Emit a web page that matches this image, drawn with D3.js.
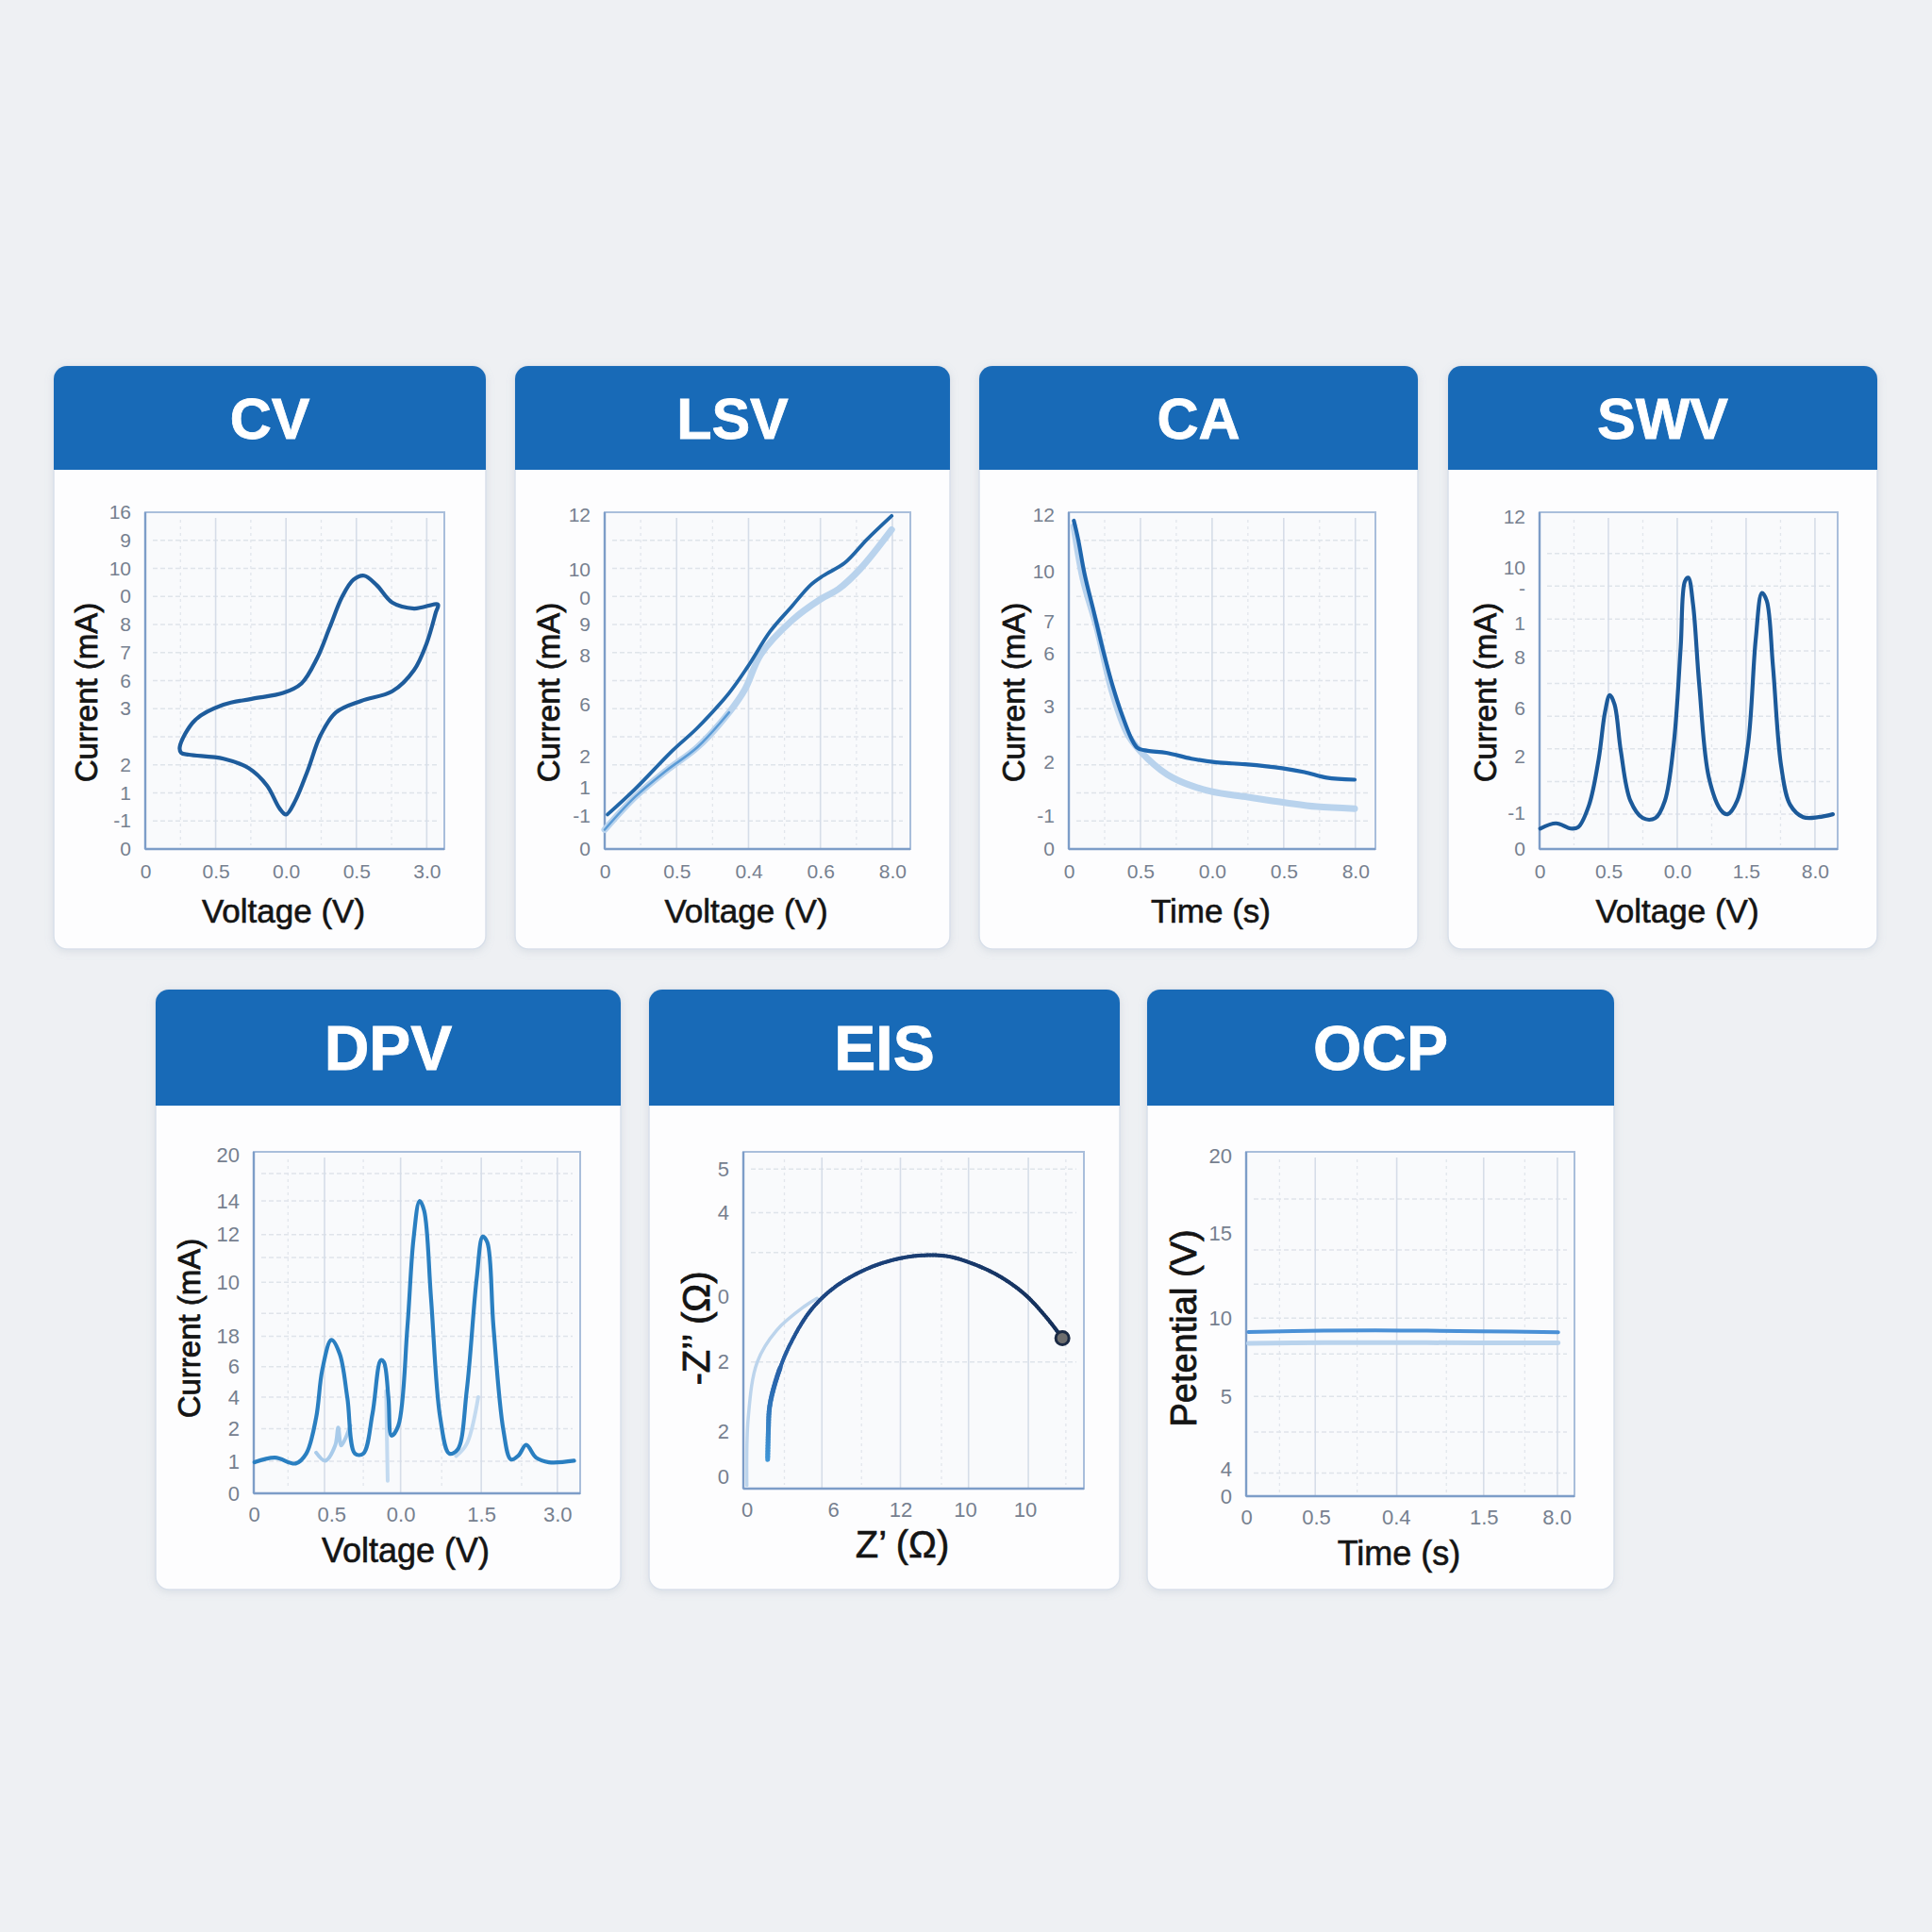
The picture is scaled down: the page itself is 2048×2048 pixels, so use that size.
<!DOCTYPE html>
<html>
<head>
<meta charset="utf-8">
<script src="https://cdn.jsdelivr.net/npm/d3@7"></script>
<style>
  body { margin: 0; background: #eef0f3; }
  svg { display: block; }
  text { font-family: "Liberation Sans", Arial, sans-serif; }
</style>
</head>
<body>
<div id="chart"></div>
<script>
// ---- data (grid units) ----

// CV: closed loop
const cvV = [0.49, 0.71, 1.11, 1.51, 1.96, 2.22, 2.44, 2.62, 2.80, 2.96, 3.11, 3.29, 3.51, 3.82, 4.16,
             4.13, 4.00, 3.82, 3.51, 3.07, 2.71, 2.49, 2.31, 2.13, 2.00, 1.91, 1.73, 1.47, 1.11, 0.62, 0.51]
const cvI = [3.63, 4.60, 5.14, 5.35, 5.56, 5.90, 6.79, 7.89, 9.00, 9.60, 9.74, 9.40, 8.78, 8.57, 8.71,
             8.44, 7.34, 6.38, 5.62, 5.28, 4.87, 4.05, 2.81, 1.71, 1.23, 1.44, 2.26, 2.88, 3.22, 3.36, 3.43]
const cvXLabels = ['0', '0.5', '0.0', '0.5', '3.0']
const cvYLabels = ['0', '-1', '1', '2', '', '3', '6', '7', '8', '0', '10', '9', '16']

// LSV
const lsvV = [0.04, 0.42, 0.94, 1.29, 1.73, 1.99, 2.30, 2.60, 2.86, 3.04, 3.34, 3.65, 3.99]
const lsvI = [1.23, 2.13, 3.50, 4.32, 5.56, 6.50, 7.75, 8.64, 9.40, 9.74, 10.2, 11.04, 11.87]
const lsvGhostV = [0.00, 0.42, 0.86, 1.29, 1.73, 1.95, 2.17, 2.61, 3.00, 3.25, 3.56, 3.99]
const lsvGhostI = [0.69, 1.85, 2.80, 3.63, 4.87, 5.69, 6.93, 8.16, 8.90, 9.26, 10.0, 11.38]
const lsvXLabels = ['0', '0.5', '0.4', '0.6', '8.0']
const lsvYLabels = ['0', '-1', '1', '2', '6', '8', '9', '0', '10', '12']
const lsvYPos = [0, 1.18, 2.2, 3.3, 5.14, 6.9, 8.0, 8.96, 9.97, 11.9]

// CA
const caT = [0.07, 0.13, 0.22, 0.35, 0.48, 0.61, 0.75, 0.88, 0.96, 1.10, 1.36, 1.71, 2.06, 2.46, 2.98, 3.29, 3.60, 3.99]
const caI = [11.7, 11.04, 9.8, 8.44, 7.06, 5.83, 4.73, 3.9, 3.6, 3.5, 3.43, 3.22, 3.09, 3.02, 2.88, 2.74, 2.54, 2.47]
const caGhostT = [0.07, 0.20, 0.39, 0.61, 0.83, 1.10, 1.45, 1.97, 2.50, 3.03, 3.46, 3.99]
const caGhostI = [11.5, 9.6, 7.9, 5.56, 4.05, 3.22, 2.54, 2.06, 1.85, 1.65, 1.51, 1.44]
const caXLabels = ['0', '0.5', '0.0', '0.5', '8.0']
const caYLabels = ['0', '-1', '2', '3', '6', '7', '10', '12']
const caYPos = [0, 1.19, 3.1, 5.08, 6.95, 8.1, 9.9, 11.9]

// SWV
const swvV = [0.01, 0.24, 0.45, 0.56, 0.72, 0.86, 0.95, 1.02, 1.09, 1.18, 1.32, 1.50, 1.68, 1.82, 1.95, 2.05, 2.11,
              2.16, 2.23, 2.32, 2.46, 2.64, 2.73, 2.87, 3.03, 3.14, 3.23, 3.30, 3.39, 3.51, 3.64, 3.83, 4.05, 4.26]
const swvI = [0.63, 0.79, 0.63, 0.67, 1.36, 2.78, 4.20, 4.73, 4.44, 3.02, 1.48, 0.95, 0.95, 1.48, 3.25, 6.21, 8.22,
              8.34, 7.51, 5.03, 2.19, 1.18, 1.07, 1.48, 3.25, 6.45, 7.87, 7.63, 5.62, 2.54, 1.36, 0.98, 0.98, 1.07]
const swvXLabels = ['0', '0.5', '0.0', '1.5', '8.0']
const swvYLabels = ['0', '-1', '2', '6', '8', '1', '-', '10', '12']
const swvYPos = [0, 1.12, 2.84, 4.32, 5.88, 6.95, 8.0, 8.64, 10.2]
const swvYGrid = [1.07, 2.07, 3.08, 4.08, 5.09, 6.09, 7.07, 8.08, 9.08]

// DPV
const dpvV = [0.01, 0.28, 0.55, 0.69, 0.82, 0.90, 1.02, 1.13, 1.23, 1.33, 1.44, 1.56, 1.67, 1.71, 1.77, 1.81, 1.90, 2.02, 2.10,
              2.18, 2.24, 2.33, 2.45, 2.57, 2.68, 2.80, 2.93, 3.01, 3.07, 3.15, 3.28, 3.38, 3.48, 3.58, 3.71, 3.88, 4.21]
const dpvI = [1.00, 1.15, 0.96, 1.28, 2.44, 3.97, 4.94, 4.49, 3.08, 1.28, 1.28, 2.56, 4.29, 4.23, 3.08, 1.86, 2.18, 5.38, 8.20,
              9.42, 9.10, 6.28, 2.44, 1.28, 1.41, 3.33, 6.92, 8.27, 8.08, 5.38, 2.05, 1.09, 1.22, 1.56, 1.15, 1.00, 1.05]
const dpvGhostV = [0.82, 0.94, 1.07, 1.11, 1.15, 1.27]
const dpvGhostI = [1.31, 1.05, 1.54, 2.12, 1.54, 2.18]
const dpvGhost2V = [1.74, 1.75, 1.76]
const dpvGhost2I = [3.3, 1.8, 0.4]
const dpvGhost3V = [2.66, 2.80, 2.95]
const dpvGhost3I = [1.2, 1.6, 3.1]
const dpvXLabels = ['0', '0.5', '0.0', '1.5', '3.0']
const dpvYLabels = ['0', '1', '2', '4', '6', '18', '10', '12', '14', '20']
const dpvYPos = [0, 1.03, 2.08, 3.1, 4.08, 5.06, 6.8, 8.33, 9.42, 10.9]
const dpvYGrid = [1.03, 2.08, 3.1, 4.08, 5.06, 5.8, 6.8, 7.6, 8.33, 9.42, 10.3]

// EIS (Nyquist)
const eisRe = [0.35, 0.36, 0.38, 0.48, 0.66, 0.97, 1.33, 1.79, 2.24, 2.60, 2.96, 3.33, 3.69, 4.05, 4.37, 4.59]
const eisIm = [0.73, 1.48, 2.08, 2.78, 3.58, 4.48, 5.08, 5.53, 5.78, 5.86, 5.83, 5.63, 5.33, 4.88, 4.28, 3.78]
const eisGhostRe = [0.05, 0.07, 0.20, 0.48, 0.88, 1.06]
const eisGhostIm = [0.08, 1.78, 3.18, 3.98, 4.58, 4.78]
const eisXLabels = ['0', '6', '12', '10', '10']
const eisXPos = [0.05, 1.29, 2.26, 3.19, 4.05]
const eisYLabels = ['0', '2', '2', '0', '4', '5']
const eisYPos = [0.3, 1.43, 3.18, 4.83, 6.93, 8.03]

// OCP
const ocpT = [0.03, 1.0, 2.0, 3.0, 4.02]
const ocpE = [4.77, 4.81, 4.81, 4.79, 4.76]
const ocpGhostE = [4.44, 4.46, 4.46, 4.45, 4.45]
const ocpXLabels = ['0', '0.5', '0.4', '1.5', '8.0']
const ocpXPos = [0, 0.9, 1.93, 3.06, 4.0]
const ocpYLabels = ['0', '4', '5', '10', '15', '20']
const ocpYPos = [0, 0.79, 2.9, 5.17, 7.62, 9.88]
const ocpYGrid = [0.67, 1.86, 2.9, 4.13, 5.17, 6.16, 7.15, 8.63]

const zip = (xs, ys) => xs.map((x, i) => [x, ys[i]])

// ---- style ----
const BG = '#eef0f3'
const HEADER = '#186ab7'
const TICK_COLOR = '#76808f'
const LIGHT = '#b9d3ed'
const INK = '#141414'

// ---- panels ----
const panels = [
    {
        title: 'CV', card: [57, 388, 458, 618], header: 110, plot: [154, 543, 471, 900],
        xDomain: [0, 4.25], yDomain: [0, 12],
        xLabels: cvXLabels, xPos: [0, 1, 2, 3, 4],
        yLabels: cvYLabels, yPos: d3.range(13),
        yGrid: d3.range(1, 12), xMajor: [1, 2, 3, 4], xMinor: [0.5, 1.5, 2.5, 3.5],
        xTitle: 'Voltage (V)', yTitle: 'Current (mA)', yTitleOff: 63,
        series: [{ pts: zip(cvV, cvI), color: '#1e5c9c', width: 4.2, closed: true }]
    },
    {
        title: 'LSV', card: [546, 388, 461, 618], header: 110, plot: [641, 543, 965, 900],
        xDomain: [0, 4.25], yDomain: [0, 12],
        xLabels: lsvXLabels, xPos: [0, 1, 2, 3, 4],
        yLabels: lsvYLabels, yPos: lsvYPos,
        yGrid: d3.range(1, 12), xMajor: [1, 2, 3, 4], xMinor: [0.5, 1.5, 2.5, 3.5],
        xTitle: 'Voltage (V)', yTitle: 'Current (mA)', yTitleOff: 60,
        series: [
            { pts: zip(lsvGhostV, lsvGhostI), color: LIGHT, width: 7 },
            { pts: zip(lsvGhostV, lsvGhostI).slice(0, 5), color: '#5b9bd6', width: 2.5 },
            { pts: zip(lsvV, lsvI), color: '#2166a8', width: 3.8 }
        ]
    },
    {
        title: 'CA', card: [1038, 388, 465, 618], header: 110, plot: [1133, 543, 1458, 900],
        xDomain: [0, 4.28], yDomain: [0, 12],
        xLabels: caXLabels, xPos: [0, 1, 2, 3, 4],
        yLabels: caYLabels, yPos: caYPos,
        yGrid: d3.range(1, 12), xMajor: [1, 2, 3, 4], xMinor: [0.5, 1.5, 2.5, 3.5],
        xTitle: 'Time (s)', yTitle: 'Current (mA)', yTitleOff: 59,
        series: [
            { pts: zip(caGhostT, caGhostI), color: LIGHT, width: 7 },
            { pts: zip(caT, caI), color: '#1f66ad', width: 4.2 }
        ]
    },
    {
        title: 'SWV', card: [1535, 388, 455, 618], header: 110, plot: [1632, 543, 1948, 900],
        xDomain: [0, 4.33], yDomain: [0, 10.35],
        xLabels: swvXLabels, xPos: [0, 1, 2, 3, 4],
        yLabels: swvYLabels, yPos: swvYPos,
        yGrid: swvYGrid, xMajor: [1, 2, 3, 4], xMinor: [0.5, 1.5, 2.5, 3.5],
        xTitle: 'Voltage (V)', yTitle: 'Current (mA)', yTitleOff: 58,
        series: [{ pts: zip(swvV, swvI), color: '#1c5a9a', width: 4.2 }]
    },
    {
        title: 'DPV', card: [165, 1049, 493, 636], header: 123, plot: [269, 1221, 615, 1583], row2: true,
        xDomain: [0, 4.29], yDomain: [0, 11],
        xLabels: dpvXLabels, xPos: [0, 1.02, 1.93, 2.99, 3.99],
        yLabels: dpvYLabels, yPos: dpvYPos,
        yGrid: dpvYGrid, xMajor: [0.93, 1.93, 2.99, 3.99], xMinor: [0.45, 1.44, 2.47, 3.52],
        xTitle: 'Voltage (V)', yTitle: 'Current (mA)', yTitleOff: 69,
        series: [
            { pts: zip(dpvGhostV, dpvGhostI), color: '#a9cbea', width: 4 },
            { pts: zip(dpvGhost2V, dpvGhost2I), color: '#c3daf0', width: 4 },
            { pts: zip(dpvGhost3V, dpvGhost3I), color: '#c3daf0', width: 4 },
            { pts: zip(dpvV, dpvI), color: '#2a7fc1', width: 4.2 }
        ]
    },
    {
        title: 'EIS', card: [688, 1049, 499, 636], header: 123, plot: [788, 1221, 1149, 1578], row2: true,
        xDomain: [0, 4.9], yDomain: [0, 8.46],
        xLabels: eisXLabels, xPos: eisXPos,
        yLabels: eisYLabels, yPos: eisYPos,
        yGrid: [3.18, 5.93, 6.93, 8.03], xMajor: [1.13, 2.26, 3.24, 4.1], xMinor: [0.59, 1.7, 2.85, 4.64],
        xTitle: 'Z\u2019 (\u03A9)', yTitle: '-Z\u2019\u2019 (\u03A9)', yTitleOff: 50,
        xTitleSize: 40, yTitleSize: 40,
        series: [{ pts: zip(eisGhostRe, eisGhostIm), color: '#bcd4ec', width: 3.5 }],
        nyquist: zip(eisRe, eisIm)
    },
    {
        title: 'OCP', card: [1216, 1049, 495, 636], header: 123, plot: [1321, 1221, 1669, 1586], row2: true,
        xDomain: [0, 4.23], yDomain: [0, 10],
        xLabels: ocpXLabels, xPos: ocpXPos,
        yLabels: ocpYLabels, yPos: ocpYPos,
        yGrid: ocpYGrid, xMajor: [0.89, 1.94, 3.06, 4.01], xMinor: [0.43, 1.43, 2.58, 3.59],
        xTitle: 'Time (s)', yTitle: 'Petential (V)', yTitleOff: 67, yTitleSize: 38,
        series: [
            { pts: zip(ocpT, ocpGhostE), color: LIGHT, width: 5 },
            { pts: zip(ocpT, ocpE), color: '#4a90d6', width: 4 }
        ]
    }
]

const svg = d3.select('#chart')
    .append('svg')
    .attr('width', 2048)
    .attr('height', 2048)

svg.append('rect').attr('width', 2048).attr('height', 2048).attr('fill', BG)

const defs = svg.append('defs')
const shadow = defs.append('filter').attr('id', 'shadow')
    .attr('x', '-10%').attr('y', '-10%').attr('width', '120%').attr('height', '120%')
shadow.append('feDropShadow')
    .attr('dx', 0).attr('dy', 2).attr('stdDeviation', 4)
    .attr('flood-color', '#8a98ad').attr('flood-opacity', 0.22)

panels.forEach(drawPanel)

function drawPanel(p) {
    const [cx, cy, cw, ch] = p.card
    const [pl, pt, pr, pb] = p.plot
    const g = svg.append('g')
    const r = 14

    // Card body
    g.append('rect')
        .attr('x', cx).attr('y', cy).attr('width', cw).attr('height', ch)
        .attr('rx', r)
        .attr('fill', '#fdfdfe')
        .attr('stroke', '#d9e0ea')
        .attr('stroke-width', 1.5)
        .attr('filter', 'url(#shadow)')

    // Header with rounded top corners only
    const hp = d3.path()
    hp.moveTo(cx, cy + p.header)
    hp.lineTo(cx, cy + r)
    hp.arcTo(cx, cy, cx + r, cy, r)
    hp.lineTo(cx + cw - r, cy)
    hp.arcTo(cx + cw, cy, cx + cw, cy + r, r)
    hp.lineTo(cx + cw, cy + p.header)
    hp.closePath()
    g.append('path').attr('d', hp.toString()).attr('fill', HEADER)

    const titleSize = p.row2 ? 66 : 61
    g.append('text')
        .attr('x', cx + cw / 2)
        .attr('y', cy + p.header / 2 + titleSize * 0.36)
        .attr('text-anchor', 'middle')
        .attr('font-size', titleSize)
        .attr('font-weight', 'bold')
        .attr('fill', '#ffffff')
        .attr('stroke', '#ffffff')
        .attr('stroke-width', 0.8)
        .text(p.title)

    const x = d3.scaleLinear().domain(p.xDomain).range([pl, pr])
    const y = d3.scaleLinear().domain(p.yDomain).range([pb, pt])

    // Plot background
    g.append('rect')
        .attr('x', pl).attr('y', pt).attr('width', pr - pl).attr('height', pb - pt)
        .attr('fill', '#f9fafc')

    // Grid
    g.append('g').selectAll('line').data(p.yGrid).join('line')
        .attr('x1', pl + 8).attr('x2', pr - 8)
        .attr('y1', d => y(d)).attr('y2', d => y(d))
        .attr('stroke', '#dfe4ea').attr('stroke-width', 1.5)
        .attr('stroke-dasharray', '5,3')
    g.append('g').selectAll('line').data(p.xMinor).join('line')
        .attr('x1', d => x(d)).attr('x2', d => x(d))
        .attr('y1', pt + 8).attr('y2', pb - 4)
        .attr('stroke', '#e2e6ec').attr('stroke-width', 1.3)
        .attr('stroke-dasharray', '3,4')
    g.append('g').selectAll('line').data(p.xMajor).join('line')
        .attr('x1', d => x(d)).attr('x2', d => x(d))
        .attr('y1', pt + 6).attr('y2', pb)
        .attr('stroke', '#d6dde8').attr('stroke-width', 1.6)

    // Plot frame
    g.append('rect')
        .attr('x', pl).attr('y', pt).attr('width', pr - pl).attr('height', pb - pt)
        .attr('fill', 'none')
        .attr('stroke', '#a9bedb')
        .attr('stroke-width', 2)
    g.append('line')
        .attr('x1', pl).attr('x2', pr).attr('y1', pb).attr('y2', pb)
        .attr('stroke', '#7d9dc8').attr('stroke-width', 2.4)
    g.append('line')
        .attr('x1', pl).attr('x2', pl).attr('y1', pt).attr('y2', pb)
        .attr('stroke', '#7d9dc8').attr('stroke-width', 2.4)

    // Axes
    const tickSize = p.row2 ? 22 : 21
    const xAxis = g.append('g')
        .attr('transform', `translate(0,${pb})`)
        .call(d3.axisBottom(x)
            .tickValues(p.xPos)
            .tickFormat((d, i) => p.xLabels[i])
            .tickSize(0)
            .tickPadding(p.row2 ? 14 : 16))
    const yAxis = g.append('g')
        .attr('transform', `translate(${pl},0)`)
        .call(d3.axisLeft(y)
            .tickValues(p.yPos)
            .tickFormat((d, i) => p.yLabels[i])
            .tickSize(0)
            .tickPadding(15))
    ;[xAxis, yAxis].forEach(a => {
        a.select('.domain').remove()
        a.attr('font-family', null).attr('font-size', null)
        a.selectAll('text')
            .attr('font-size', tickSize)
            .attr('fill', TICK_COLOR)
    })

    // Axis titles (slight stroke gives the medium weight of the original)
    const xTitleSize = p.xTitleSize || (p.row2 ? 36 : 35)
    const yTitleSize = p.yTitleSize || 33
    g.append('text')
        .attr('x', (pl + pr) / 2 - 12)
        .attr('y', pb + (p.row2 ? 73 : 78))
        .attr('text-anchor', 'middle')
        .attr('font-size', xTitleSize)
        .attr('fill', INK)
        .attr('stroke', INK)
        .attr('stroke-width', 0.6)
        .text(p.xTitle)
    const ty = p.row2 ? 1408 : 734
    g.append('text')
        .attr('transform', `translate(${pl - p.yTitleOff + yTitleSize * 0.36},${ty}) rotate(-90)`)
        .attr('text-anchor', 'middle')
        .attr('font-size', yTitleSize)
        .attr('fill', INK)
        .attr('stroke', INK)
        .attr('stroke-width', 0.8)
        .text(p.yTitle)

    // Series
    p.series.forEach(s => {
        const line = d3.line()
            .x(d => x(d[0]))
            .y(d => y(d[1]))
            .curve(s.closed ? d3.curveCatmullRomClosed.alpha(0.5) : d3.curveCatmullRom.alpha(0.5))
        g.append('path')
            .attr('d', line(s.pts))
            .attr('fill', 'none')
            .attr('stroke', s.color)
            .attr('stroke-width', s.width)
            .attr('stroke-linecap', 'round')
            .attr('stroke-linejoin', 'round')
    })

    if (p.nyquist) drawNyquist(g, p.nyquist, x, y)
}

// Nyquist arc: colour shifts from mid blue to navy along its length
function drawNyquist(g, pts, x, y) {
    const line = d3.line()
        .x(d => x(d[0]))
        .y(d => y(d[1]))
        .curve(d3.curveCatmullRom.alpha(0.5))
    const guide = g.append('path').attr('d', line(pts)).attr('fill', 'none').attr('stroke', 'none')
    const node = guide.node()
    const total = node.getTotalLength()
    const color = d3.scaleLinear()
        .domain([0, 0.18, 0.35, 1])
        .range(['#3f95d6', '#2a66ad', '#1d4784', '#152f58'])
    const step = 3
    const samples = d3.range(0, total + step, step).map(l => node.getPointAtLength(Math.min(l, total)))
    g.append('g').selectAll('line')
        .data(d3.pairs(samples))
        .join('line')
        .attr('x1', d => d[0].x).attr('y1', d => d[0].y)
        .attr('x2', d => d[1].x).attr('y2', d => d[1].y)
        .attr('stroke', (d, i) => color(i * step / total))
        .attr('stroke-width', (d, i) => i * step / total < 0.2 ? 5 : 4)
        .attr('stroke-linecap', 'round')
    const end = pts[pts.length - 1]
    g.append('circle')
        .attr('cx', x(end[0])).attr('cy', y(end[1]))
        .attr('r', 7)
        .attr('fill', '#6e6e6e')
        .attr('stroke', '#1b2a44')
        .attr('stroke-width', 3)
}
</script>
</body>
</html>
